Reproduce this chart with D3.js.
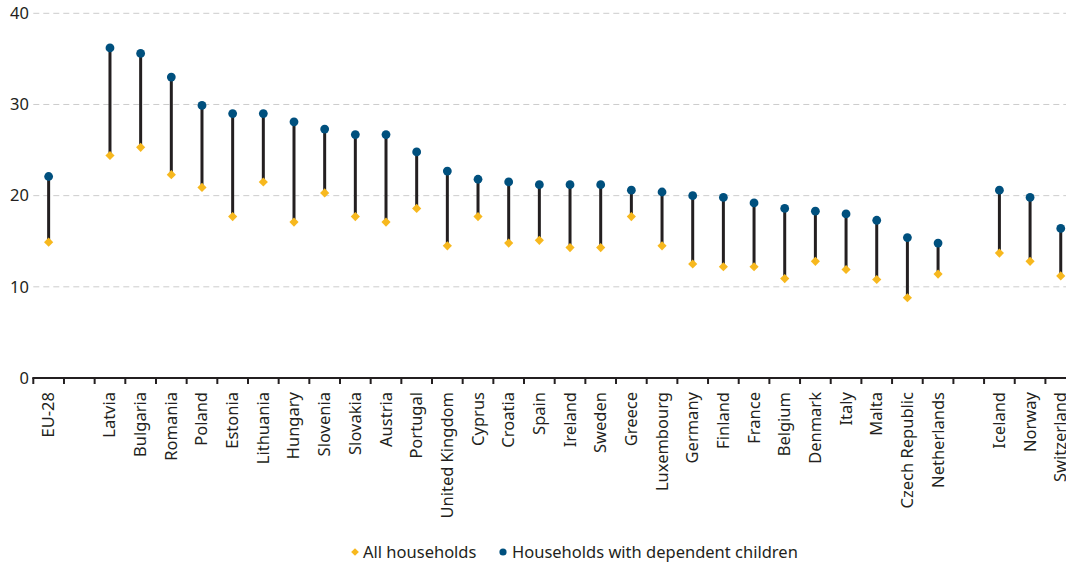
<!DOCTYPE html>
<html><head><meta charset="utf-8">
<script src="https://cdn.jsdelivr.net/npm/d3@7"></script>
<style>body{margin:0;background:#fff;}svg{display:block;}</style>
</head><body>
<svg id="chart" width="1066" height="564"></svg>
<script>
const categories = ["EU-28","Latvia","Bulgaria","Romania","Poland","Estonia","Lithuania","Hungary","Slovenia","Slovakia","Austria","Portugal","United Kingdom","Cyprus","Croatia","Spain","Ireland","Sweden","Greece","Luxembourg","Germany","Finland","France","Belgium","Denmark","Italy","Malta","Czech Republic","Netherlands","Iceland","Norway","Switzerland"];
const allHouseholds = [14.9,24.4,25.3,22.3,20.9,17.7,21.5,17.1,20.3,17.7,17.1,18.6,14.5,17.7,14.8,15.1,14.3,14.3,17.7,14.5,12.5,12.2,12.2,10.9,12.8,11.9,10.8,8.8,11.4,13.7,12.8,11.2];
const childHouseholds = [22.1,36.2,35.6,33.0,29.9,29.0,29.0,28.1,27.3,26.7,26.7,24.8,22.7,21.8,21.5,21.2,21.2,21.2,20.6,20.4,20.0,19.8,19.2,18.6,18.3,18.0,17.3,15.4,14.8,20.6,19.8,16.4];
const yTicks = [0,10,20,30,40];
const gapAfter = ["EU-28","Netherlands"];
const legendLabels = ["All households","Households with dependent children"];

const font = "'Noto Sans', 'Open Sans', sans-serif";
const svg = d3.select("#chart");
const domain = [];
categories.forEach(c => { domain.push(c); if (gapAfter.includes(c)) domain.push("__gap_" + c); });

const step = 30.67;
const x0 = 33.3;
const x = d3.scaleBand().domain(domain).range([x0, x0 + domain.length * step]).padding(0);
const y = d3.scaleLinear().domain([0, 40]).range([378, 13.3]);

// grid
svg.append("g").selectAll("line").data(yTicks.filter(d => d > 0)).join("line")
  .attr("x1", x0).attr("x2", 1066)
  .attr("y1", d => y(d)).attr("y2", d => y(d))
  .attr("stroke", "#cccccc").attr("stroke-width", 1).attr("stroke-dasharray", "6,4");

// y labels
svg.append("g").selectAll("text").data(yTicks).join("text")
  .attr("x", 29).attr("y", d => y(d)).attr("dy", "0.35em")
  .attr("text-anchor", "end").attr("font-family", font).attr("font-size", 16.5).attr("fill", "#231f20")
  .text(d => d);

// x axis
const xAxis = svg.append("g");
xAxis.append("line").attr("x1", x0 - 1).attr("x2", 1066).attr("y1", y(0)).attr("y2", y(0))
  .attr("stroke", "#231f20").attr("stroke-width", 2);
const bounds = domain.map(d => x(d)).concat([x(domain[domain.length-1]) + x.step()]);
xAxis.selectAll("line.tick").data(bounds.filter(b => b <= 1066)).join("line").attr("class","tick")
  .attr("x1", d => d).attr("x2", d => d).attr("y1", y(0)).attr("y2", y(0) + 6)
  .attr("stroke", "#231f20").attr("stroke-width", 2);
xAxis.selectAll("text").data(categories).join("text")
  .attr("transform", d => `translate(${x(d) + x.bandwidth()/2 + 5.5},${y(0) + 14}) rotate(-90)`)
  .attr("text-anchor", "end")
  .attr("font-family", font).attr("font-size", 16.5).attr("fill", "#231f20")
  .text(d => d);

// stems
const data = categories.map((c, i) => ({c, a: allHouseholds[i], h: childHouseholds[i]}));
const cx = d => x(d.c) + x.bandwidth()/2;
svg.append("g").selectAll("line").data(data).join("line")
  .attr("x1", cx).attr("x2", cx).attr("y1", d => y(d.a)).attr("y2", d => y(d.h))
  .attr("stroke", "#231f20").attr("stroke-width", 3);

svg.append("g").selectAll("path").data(data).join("path")
  .attr("transform", d => `translate(${cx(d)},${y(d.a)}) rotate(45)`)
  .attr("d", d3.symbol().type(d3.symbolSquare).size(42)).attr("fill", "#f7b81e");
svg.append("g").selectAll("circle").data(data).join("circle")
  .attr("cx", cx).attr("cy", d => y(d.h)).attr("r", 4.4).attr("fill", "#00507e");

// legend
const lg = svg.append("g");
lg.append("path").attr("transform", "translate(355,552) rotate(45)")
  .attr("d", d3.symbol().type(d3.symbolSquare).size(30)).attr("fill", "#f7b81e");
lg.append("text").attr("x", 363).attr("y", 552).attr("dy", "0.35em")
  .attr("font-family", font).attr("font-size", 16.5).attr("fill", "#231f20").text(legendLabels[0]);
lg.append("circle").attr("cx", 503).attr("cy", 552).attr("r", 3.6).attr("fill", "#00507e");
lg.append("text").attr("x", 512).attr("y", 552).attr("dy", "0.35em")
  .attr("font-family", font).attr("font-size", 16.5).attr("fill", "#231f20").text(legendLabels[1]);
</script>
</body></html>
